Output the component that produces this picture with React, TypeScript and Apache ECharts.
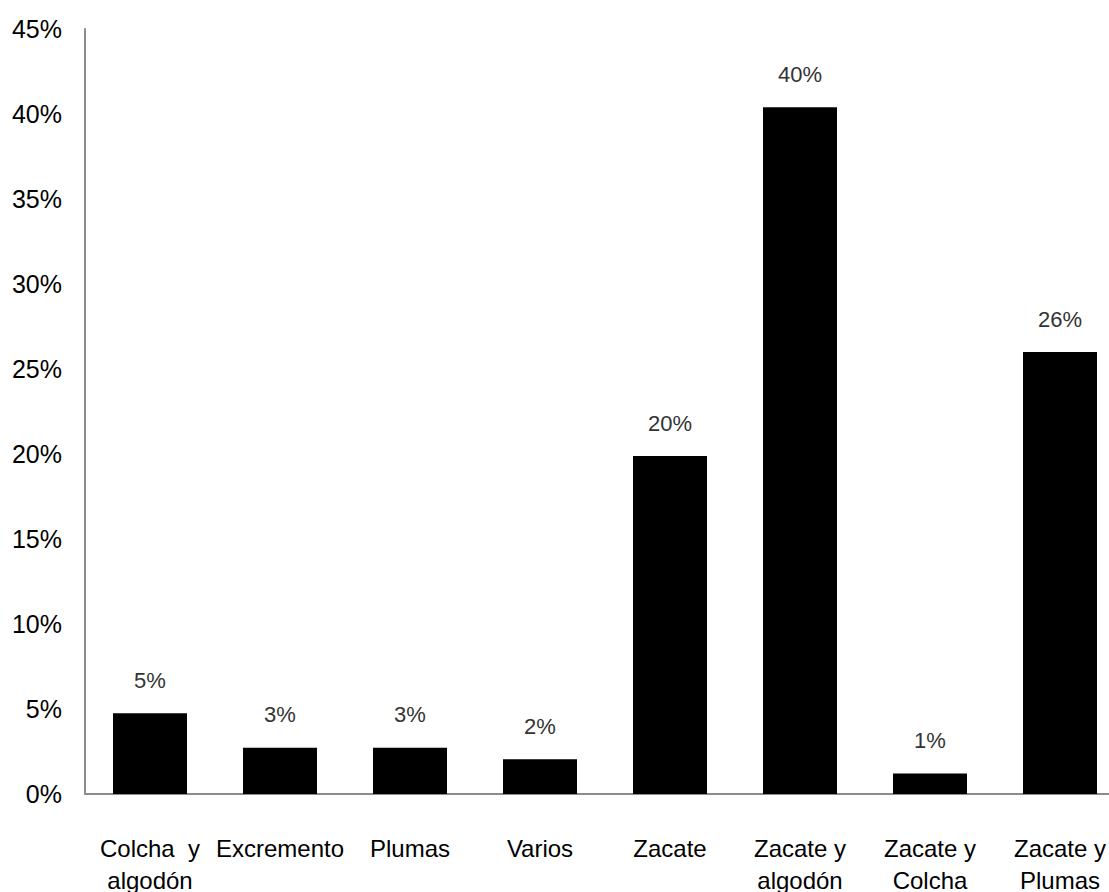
import React, { useEffect, useRef } from "react";
import * as echarts from "echarts";

const categories = [
  "Colcha  y\nalgodón",
  "Excremento",
  "Plumas",
  "Varios",
  "Zacate",
  "Zacate y\nalgodón",
  "Zacate y\nColcha",
  "Zacate y\nPlumas",
];
const values = [4.75, 2.72, 2.72, 2.04, 19.88, 40.4, 1.2, 26.0];
const yTicks = { min: 0, max: 45, interval: 5 };

const FONT = "'Liberation Sans', Arial, sans-serif";

export default function App() {
  const ref = useRef<HTMLDivElement>(null);
  useEffect(() => {
    if (!ref.current) return;
    const chart = echarts.init(ref.current, null, { renderer: "svg" });
    chart.setOption({
      animation: false,
      backgroundColor: "#ffffff",
      grid: {
        left: 85,
        right: 35,
        top: 29,
        bottom: 98,
        containLabel: false,
        outerBoundsMode: "none",
      },
      xAxis: {
        type: "category",
        data: categories,
        axisLine: { show: true, lineStyle: { color: "#8c8c8c", width: 2 } },
        axisTick: { show: false },
        axisLabel: {
          interval: 0,
          margin: 38,
          fontFamily: FONT,
          fontSize: 24,
          lineHeight: 32,
          color: "#000",
        },
      },
      yAxis: {
        type: "value",
        min: yTicks.min,
        max: yTicks.max,
        interval: yTicks.interval,
        splitLine: { show: false },
        axisTick: { show: false },
        axisLine: { show: true, lineStyle: { color: "#8c8c8c", width: 2 } },
        axisLabel: {
          formatter: "{value}%",
          margin: 23,
          fontFamily: FONT,
          fontSize: 25,
          color: "#000",
        },
      },
      series: [
        {
          type: "bar",
          data: values,
          barWidth: 74,
          itemStyle: { color: "#000" },
          label: {
            show: true,
            position: "top",
            distance: 22,
            fontFamily: FONT,
            fontSize: 22,
            color: "#333",
            formatter: (p: any) => Math.round(p.value) + "%",
          },
        },
      ],
    });
    return () => chart.dispose();
  }, []);
  return (
    <div
      style={{
        position: "fixed",
        left: 0,
        top: 0,
        width: 1109,
        height: 892,
        overflow: "hidden",
        background: "#fff",
      }}
    >
      <div ref={ref} style={{ width: 1160, height: 892 }} />
    </div>
  );
}
